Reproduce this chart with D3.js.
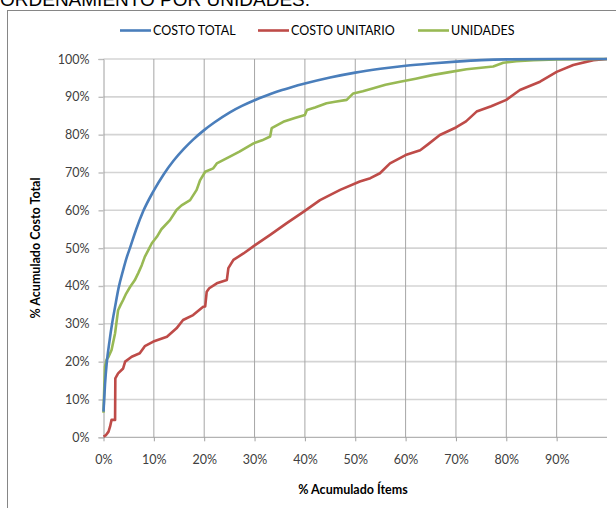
<!DOCTYPE html>
<html><head><meta charset="utf-8">
<script src="https://cdn.jsdelivr.net/npm/d3@7"></script>
<style>html,body{margin:0;padding:0;background:#fff;overflow:hidden}</style>
</head><body>
<svg id="c" width="616" height="508"></svg>
<script>
// % Acumulado Ítems, % Acumulado (values in percent)
const seriesNames = ["COSTO TOTAL", "COSTO UNITARIO", "UNIDADES"];
const seriesColors = ["#4a7ebb", "#be4b48", "#98b954"];
const xTicks = [0,10,20,30,40,50,60,70,80,90];
const yTicks = [0,10,20,30,40,50,60,70,80,90,100];

const costoTotal = [[0,6.8],[0.3,14],[0.64,19.6],[1.2,25.5],[1.7,30],[2.3,34.5],[3,39.5],[3.9,44.2],[4.6,47.5],[5.3,50.2],[6.5,55],[7.9,59.8],[9.9,65],[12,69.6],[13.9,73.1],[16,76.3],[17.8,78.7],[19.8,81],[22,83.2],[25.1,85.9],[27.5,87.6],[30,89.1],[32.5,90.4],[35,91.6],[37.5,92.6],[40,93.5],[45,95.1],[50,96.4],[55,97.4],[60,98.2],[65,98.8],[70,99.3],[75,99.7],[80,99.9],[90,100],[100,100]];
const costoUnitario = [[0,0.2],[0.5,0.6],[1,1.5],[1.3,2.8],[1.6,4.6],[2.3,4.6],[2.35,15.6],[2.9,16.9],[3.9,18.2],[4.3,20],[5.6,21.3],[7.2,22.2],[8.2,24.1],[9.9,25.3],[12.6,26.6],[14.5,28.8],[15.8,31],[17.8,32.3],[19.8,34.5],[20.2,34.6],[20.5,38.5],[21,39.4],[22.5,40.7],[24.5,41.6],[24.8,44.7],[25.8,46.9],[27.8,48.6],[30.1,50.8],[33.1,53.5],[36.4,56.6],[39.7,59.6],[43,62.7],[47,65.4],[50.9,67.6],[53,68.5],[54.9,69.8],[56.9,72.4],[60,74.6],[62.9,75.9],[64.5,77.5],[66.8,79.9],[70,81.9],[72,83.5],[74.1,86.1],[77,87.5],[80,89.2],[82.7,91.8],[86.7,94],[90,96.6],[93.3,98.4],[97.3,99.7],[100,100]];
const unidades = [[0,6.5],[0.15,13],[0.3,18.7],[0.6,20.5],[1,21.3],[1.6,23.1],[2.3,27.5],[2.9,33.6],[3.4,35],[3.9,36.3],[4.5,38],[5.3,39.8],[6.2,41.5],[6.9,43.4],[7.6,45.5],[8.2,47.7],[8.9,49.5],[9.6,51.3],[10.6,53],[11.5,55],[13.2,57.4],[14.5,60.1],[15.5,61.3],[17.2,62.7],[18.5,65.4],[19.2,68],[20.2,70.2],[21.8,71.1],[22.5,72.4],[25.1,74.2],[27,75.5],[29.8,77.7],[31.5,78.5],[33.1,79.5],[33.4,81.7],[35.7,83.4],[38,84.4],[40,85.2],[40.4,86.5],[42,87.2],[44.3,88.3],[46,88.7],[48.3,89.2],[49.6,90.9],[51.5,91.5],[53.6,92.3],[56,93.2],[58.9,94],[62,94.8],[65.5,95.8],[69,96.6],[72.1,97.3],[75,97.7],[77.4,98],[79.4,99],[82,99.4],[85.4,99.7],[90,99.9],[100,100]];

const svg = d3.select("#c");
const FONT = "Lato, 'Open Sans', sans-serif";
const x = d3.scaleLinear().domain([0,100]).range([103.5,607]);
const y = d3.scaleLinear().domain([0,100]).range([437.3,59]);

// cropped title above chart
svg.append("text").attr("x",0).attr("y",6).attr("font-family","'Liberation Sans', Arial, sans-serif")
  .attr("font-size",19).attr("fill","#000").text("ORDENAMIENTO POR UNIDADES.");

// chart border
svg.append("rect").attr("x",7.5).attr("y",10.5).attr("width",700).attr("height",600)
  .attr("fill","none").attr("stroke","#868686").attr("stroke-width",1);

// horizontal grid
svg.append("g").selectAll("line").data(yTicks.filter(d=>d>0)).join("line")
  .attr("x1",x(0)).attr("x2",x(100)).attr("y1",d=>y(d)).attr("y2",d=>y(d))
  .attr("stroke","#d4d4d4").attr("stroke-width",1.6);
// vertical grid
svg.append("g").selectAll("line").data(xTicks.filter(d=>d>0)).join("line")
  .attr("x1",d=>x(d)).attr("x2",d=>x(d)).attr("y1",y(100)).attr("y2",y(0))
  .attr("stroke","#a6a6a6").attr("stroke-width",1);

// axes
const yAxis = d3.axisLeft(y).tickValues(yTicks).tickSize(5).tickPadding(9).tickFormat(d=>d+"%");
const gy = svg.append("g").attr("transform",`translate(${x(0)},0)`).call(yAxis);
gy.select(".domain").attr("stroke","#a0a0a0");
gy.selectAll(".tick line").attr("stroke","#bdbdbd").attr("stroke-width",1.4);
gy.selectAll("text").attr("font-family",FONT).attr("font-size",12.5).attr("fill","#404040");

const xAxis = d3.axisBottom(x).tickValues(xTicks).tickSize(4).tickPadding(14).tickFormat(d=>d+"%");
const gx = svg.append("g").attr("transform",`translate(0,${y(0)})`).call(xAxis);
gx.select(".domain").attr("stroke","#a0a0a0").attr("d",`M${x(0)},0H${x(100)}`);
gx.selectAll(".tick line").attr("stroke","#a0a0a0");
gx.selectAll("text").attr("font-family",FONT).attr("font-size",12.5).attr("fill","#404040");

// series
const lineSmooth = d3.line().x(d=>x(d[0])).y(d=>y(d[1])).curve(d3.curveMonotoneX);
const lineLin = d3.line().x(d=>x(d[0])).y(d=>y(d[1]));
svg.append("path").datum(costoUnitario).attr("d",lineLin).attr("fill","none")
  .attr("stroke",seriesColors[1]).attr("stroke-width",2.6).attr("stroke-linejoin","round");
svg.append("path").datum(unidades).attr("d",lineLin).attr("fill","none")
  .attr("stroke",seriesColors[2]).attr("stroke-width",2.6).attr("stroke-linejoin","round");
svg.append("path").datum(costoTotal).attr("d",lineSmooth).attr("fill","none")
  .attr("stroke",seriesColors[0]).attr("stroke-width",2.6).attr("stroke-linejoin","round");

// axis titles
svg.append("text").attr("x",353).attr("y",494).attr("text-anchor","middle")
  .attr("font-family",FONT).attr("font-weight","bold").attr("font-size",12.5).attr("fill","#000")
  .text("% Acumulado Ítems");
svg.append("text").attr("transform","translate(40,248) rotate(-90)").attr("text-anchor","middle")
  .attr("font-family",FONT).attr("font-weight","bold").attr("font-size",12.5).attr("fill","#000")
  .text("% Acumulado Costo Total");

// legend
const legX = [120, 258, 418];
const leg = svg.append("g");
seriesNames.forEach((n,i)=>{
  leg.append("line").attr("x1",legX[i]).attr("x2",legX[i]+31).attr("y1",30.5).attr("y2",30.5)
    .attr("stroke",seriesColors[i]).attr("stroke-width",2.6);
  leg.append("text").attr("x",legX[i]+33).attr("y",34.5).attr("font-family",FONT)
    .attr("font-size",12.5).attr("fill","#000").text(n);
});
</script>
</body></html>
